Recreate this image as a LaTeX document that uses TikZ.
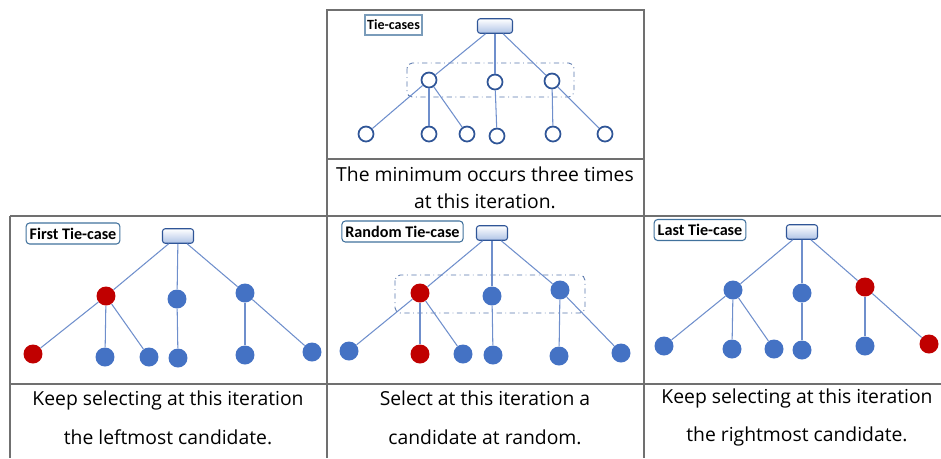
\documentclass[tikz,border=0pt]{standalone}
\usepackage{fontspec}
\setmainfont{Open Sans}
\newfontfamily\tagfont{Carlito}
\usetikzlibrary{positioning}
\definecolor{nodeblue}{HTML}{4472C4}
\definecolor{nodered}{HTML}{C00000}
\definecolor{edgeblue}{HTML}{6F8FCC}
\definecolor{ringblue}{HTML}{2F5597}
\definecolor{rootfill}{HTML}{AFC3E6}
\definecolor{tagline}{HTML}{41719C}
\definecolor{gridgray}{HTML}{707070}
% same tree in every panel: root, three tied nodes, six leaves
\newcommand{\treeedges}[1]{\draw[edge] (#1r) -- (#1a);
					\draw[edge] (#1r) -- (#1b);
					\draw[edge] (#1r) -- (#1c);
					\draw[edge] (#1a) -- (#1l1);
					\draw[edge] (#1a) -- (#1l2);
					\draw[edge] (#1a) -- (#1l3);
					\draw[edge] (#1b) -- (#1l4);
					\draw[edge] (#1c) -- (#1l5);
					\draw[edge] (#1c) -- (#1l6);}

\begin{document}
\begin{tikzpicture}[x=0.02cm, y=-0.02cm,
	edge/.style={edgeblue, line width=0.6pt},
	ring/.style={circle, draw=ringblue, line width=1pt, fill=white, minimum size=0.3cm, inner sep=0pt},
	dot/.style={circle, fill=nodeblue, minimum size=0.38cm, inner sep=0pt},
	pick/.style={dot, fill=nodered},
	root/.style={rectangle, rounded corners=1.5pt, draw=ringblue, line width=0.6pt, top color=white, bottom color=rootfill, minimum width=0.62cm, minimum height=0.29cm, inner sep=0pt},
	tag/.style={draw=tagline, line width=0.6pt, rounded corners=2pt, font=\tagfont\bfseries\fontsize{9.2}{10}\selectfont, minimum height=0.42cm, inner sep=2pt},
	tiegroup/.style={draw=ringblue!80, line width=0.5pt, dash dot, rounded corners=3pt},
	caption/.style={align=center, font=\fontsize{11}{15.3}\selectfont, inner sep=0pt},
	grid/.style={gridgray, line width=0.6pt}]

	\useasboundingbox (0,0) rectangle (941,458);

	% table lines
	\draw[grid] (327,10) rectangle (644,216);
	\draw[grid] (327,159) -- (644,159);
	\draw[grid] (10,216) -- (941,216);
	\draw[grid] (10,384) -- (941,384);
	\draw[grid] (10,216) -- (10,458);
	\draw[grid] (327,216) -- (327,458);
	\draw[grid] (644,216) -- (644,458);

	% tie-cases
	\draw[tiegroup] (407,63) rectangle (574,97);
	\node[tag, rounded corners=0pt, draw=tagline!70, font=\tagfont\bfseries\fontsize{8}{9}\selectfont, minimum height=0.4cm, inner sep=1.2pt] (ttag) at (393.5,25) {Tie-cases};
	\node[root, minimum width=0.7cm] (tr) at (495,26) {};
	\node[ring] (ta) at (429,80) {};
	\node[ring] (tb) at (495,82) {};
	\node[ring] (tc) at (552,81) {};
	\node[ring] (tl1) at (366,134) {};
	\node[ring] (tl2) at (429,134) {};
	\node[ring] (tl3) at (467,134) {};
	\node[ring] (tl4) at (497,136) {};
	\node[ring] (tl5) at (553,134) {};
	\node[ring] (tl6) at (605,134) {};
	\treeedges{t}
	\node[caption] (tcap) at (485,187.5) {The minimum occurs three times\\at this iteration.};

	% first tie-case
	\node[tag] (ftag) at (73,233.5) {First Tie-case};
	\node[root] (fr) at (178,236) {};
	\node[pick] (fa) at (106,296) {};
	\node[dot] (fb) at (177,299) {};
	\node[dot] (fc) at (245,293) {};
	\node[pick] (fl1) at (33,354) {};
	\node[dot] (fl2) at (105,357) {};
	\node[dot] (fl3) at (149,357) {};
	\node[dot] (fl4) at (178,358) {};
	\node[dot] (fl5) at (245,355) {};
	\node[dot] (fl6) at (312,352) {};
	\treeedges{f}
	\node[caption, font=\fontsize{11}{22}\selectfont] (fcap) at (168,417.5) {Keep selecting at this iteration\\the leftmost candidate.};

	% random tie-case
	\draw[tiegroup] (395,275) rectangle (585,313);
	\node[tag] (rtag) at (402.5,231.5) {Random Tie-case};
	\node[root] (rr) at (492,233) {};
	\node[pick] (ra) at (420,293) {};
	\node[dot] (rb) at (492,296) {};
	\node[dot] (rc) at (560,290) {};
	\node[dot] (rl1) at (349,351) {};
	\node[pick] (rl2) at (420,354) {};
	\node[dot] (rl3) at (463,354) {};
	\node[dot] (rl4) at (493,355) {};
	\node[dot] (rl5) at (559,356) {};
	\node[dot] (rl6) at (621,353) {};
	\treeedges{r}
	\node[caption, font=\fontsize{11}{22}\selectfont] (rcap) at (485,417.5) {Select at this iteration a\\candidate at random.};

	% last tie-case
	\node[tag] (ltag) at (700,230) {Last Tie-case};
	\node[root] (lr) at (802,232) {};
	\node[dot] (la) at (733,290) {};
	\node[dot] (lb) at (802,293) {};
	\node[pick] (lc) at (865,287) {};
	\node[dot] (ll1) at (664,346) {};
	\node[dot] (ll2) at (732,349) {};
	\node[dot] (ll3) at (774,349) {};
	\node[dot] (ll4) at (802,350) {};
	\node[dot] (ll5) at (865,346) {};
	\node[pick] (ll6) at (929,344) {};
	\treeedges{l}
	\node[caption, font=\fontsize{11}{22}\selectfont] (lcap) at (797,417.5) {Keep selecting at this iteration\\the rightmost candidate.};

\end{tikzpicture}
\end{document}
